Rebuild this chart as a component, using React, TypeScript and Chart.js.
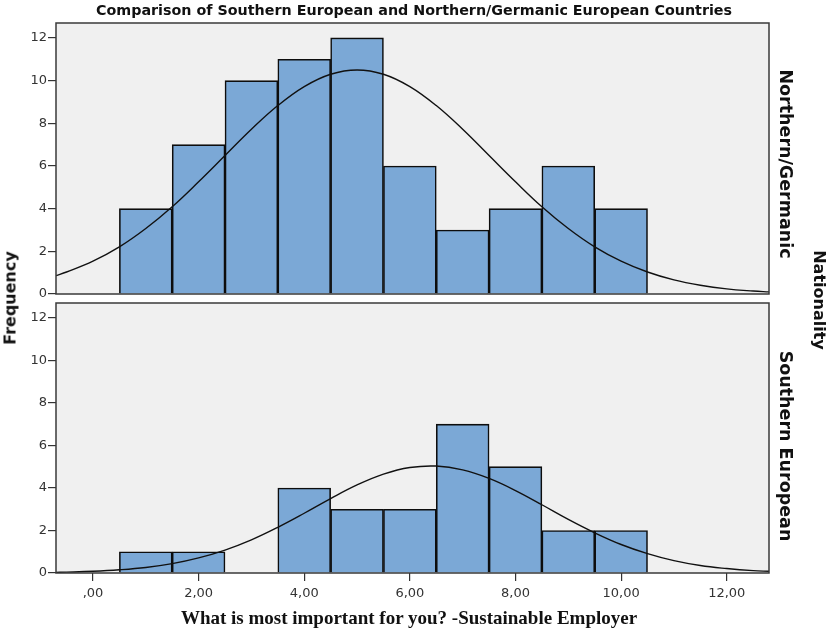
import React, { useEffect, useRef } from "react";
import { Chart, registerables } from "chart.js";

Chart.register(...registerables);

// ---- Data ----
const binCenters = [1, 2, 3, 4, 5, 6, 7, 8, 9, 10];
const northernCounts = [4, 7, 10, 11, 12, 6, 3, 4, 6, 4];
const southernCounts = [1, 1, 0, 4, 3, 3, 7, 5, 2, 2];

const curveX = [
  -0.7, -0.5, 0, 0.5, 1, 1.5, 2, 2.5, 3, 3.5, 4, 4.5, 5, 5.5, 6, 6.5, 7, 7.5, 8,
  8.5, 9, 9.5, 10, 10.5, 11, 11.5, 12, 12.5, 12.8,
];
const northernCurve = [
  0.86, 1.03, 1.54, 2.21, 3.07, 4.09, 5.26, 6.49, 7.72, 8.83, 9.72, 10.3, 10.5,
  10.3, 9.72, 8.83, 7.72, 6.49, 5.26, 4.09, 3.07, 2.21, 1.54, 1.03, 0.66, 0.41,
  0.24, 0.14, 0.1,
];
const southernCurve = [
  0.03, 0.04, 0.08, 0.15, 0.26, 0.44, 0.71, 1.08, 1.56, 2.15, 2.81, 3.5, 4.14,
  4.65, 4.96, 5.03, 4.85, 4.45, 3.88, 3.21, 2.52, 1.89, 1.34, 0.91, 0.58, 0.35,
  0.21, 0.11, 0.08,
];

const yTickValues = [0, 2, 4, 6, 8, 10, 12];
const xTickValues = [0, 2, 4, 6, 8, 10, 12];
const xTickLabels = [",00", "2,00", "4,00", "6,00", "8,00", "10,00", "12,00"];

const X_MIN = -0.7;
const X_MAX = 12.8;
const Y_MAX = 12.7;

const panelPlugin = {
  id: "panelFrame",
  beforeDraw(chart: any) {
    const { ctx, chartArea: a } = chart;
    ctx.save();
    ctx.fillStyle = "#f0f0f0";
    ctx.fillRect(a.left, a.top, a.right - a.left, a.bottom - a.top);
    ctx.restore();
  },
  afterDraw(chart: any) {
    const { ctx, chartArea: a } = chart;
    ctx.save();
    ctx.strokeStyle = "#3a3a3a";
    ctx.lineWidth = 1.5;
    ctx.strokeRect(a.left, a.top, a.right - a.left, a.bottom - a.top);
    ctx.restore();
  },
};

function makeConfig(counts: number[], curve: number[], showX: boolean, padTop: number, padBottom: number): any {
  return {
    type: "bar",
    data: {
      datasets: [
        {
          type: "line",
          data: curveX.map((x, i) => ({ x, y: curve[i] })),
          borderColor: "#111",
          borderWidth: 1.4,
          pointRadius: 0,
          tension: 0.4,
          fill: false,
          order: 0,
        },
        {
          type: "bar",
          data: binCenters.map((x, i) => ({ x, y: counts[i] })),
          backgroundColor: "#7ba8d6",
          borderColor: "#0d0d0d",
          borderWidth: 1.6,
          barPercentage: 1,
          categoryPercentage: 1,
          order: 1,
        },
      ],
    },
    options: {
      animation: false,
      responsive: false,
      devicePixelRatio: 1,
      layout: { padding: { top: padTop, right: 63, bottom: padBottom, left: 0 } },
      plugins: { legend: { display: false }, tooltip: { enabled: false }, title: { display: false } },
      scales: {
        x: {
          type: "linear",
          min: X_MIN,
          max: X_MAX,
          offset: false,
          display: showX,
          afterBuildTicks: (scale: any) => {
            scale.ticks = xTickValues.map((v) => ({ value: v }));
          },
          afterFit: (scale: any) => {
            scale.height = showX ? 56 : 0;
          },
          grid: {
            display: true,
            offset: false,
            drawOnChartArea: false,
            drawTicks: true,
            tickLength: 8,
            color: "#333",
            lineWidth: 1.2,
          },
          border: { display: false },
          ticks: {
            maxRotation: 0,
            autoSkip: false,
            padding: 5,
            color: "#333",
            font: { family: "DejaVu Sans", size: 13 },
            callback: (v: number) => {
              const i = xTickValues.indexOf(v);
              return i >= 0 ? xTickLabels[i] : "";
            },
          },
        },
        y: {
          type: "linear",
          min: 0,
          max: Y_MAX,
          afterBuildTicks: (scale: any) => {
            scale.ticks = yTickValues.map((v) => ({ value: v }));
          },
          afterFit: (scale: any) => {
            scale.width = 56;
          },
          grid: {
            display: true,
            drawOnChartArea: false,
            drawTicks: true,
            tickLength: 8,
            color: "#333",
            lineWidth: 1.2,
          },
          border: { display: false },
          ticks: {
            padding: 1,
            color: "#333",
            font: { family: "DejaVu Sans", size: 13 },
            callback: (v: number) => String(v),
          },
        },
      },
    },
    plugins: [panelPlugin],
  };
}

function Panel(props: { counts: number[]; curve: number[]; showX: boolean; top: number; height: number; padTop: number; padBottom: number }) {
  const ref = useRef<HTMLCanvasElement | null>(null);
  useEffect(() => {
    if (!ref.current) return;
    const chart = new Chart(ref.current, makeConfig(props.counts, props.curve, props.showX, props.padTop, props.padBottom));
    return () => chart.destroy();
  }, []);
  return (
    <canvas
      ref={ref}
      width={832}
      height={props.height}
      style={{ position: "absolute", left: 0, top: props.top, width: 832, height: props.height }}
    />
  );
}

const textBase: React.CSSProperties = {
  position: "absolute",
  whiteSpace: "nowrap",
  color: "#111",
};

export default function App() {
  useEffect(() => {
    document.body.style.margin = "0";
  }, []);
  return (
    <div style={{ position: "fixed", left: 0, top: 0, width: 832, height: 629, background: "#fff", overflow: "hidden" }}>
      <Panel counts={northernCounts} curve={northernCurve} showX={false} top={0} height={312} padTop={23} padBottom={18} />
      <Panel counts={southernCounts} curve={southernCurve} showX={true} top={290} height={339} padTop={13} padBottom={0} />
      <div
        style={{
          ...textBase,
          left: 0,
          width: 828,
          top: 2,
          textAlign: "center",
          font: "bold 14.3px 'DejaVu Sans'",
        }}
      >
        Comparison of Southern European and Northern/Germanic European Countries
      </div>
      <div
        style={{
          ...textBase,
          left: 10,
          top: 298,
          transform: "translate(-50%, -50%) rotate(-90deg)",
          font: "bold 16px 'DejaVu Sans'",
        }}
      >
        Frequency
      </div>
      <div
        style={{
          ...textBase,
          left: 819,
          top: 300,
          transform: "translate(-50%, -50%) rotate(90deg)",
          font: "bold 16px 'DejaVu Sans'",
        }}
      >
        Nationality
      </div>
      <div
        style={{
          ...textBase,
          left: 786,
          top: 164,
          transform: "translate(-50%, -50%) rotate(90deg)",
          font: "bold 17.5px 'DejaVu Sans'",
        }}
      >
        Northern/Germanic
      </div>
      <div
        style={{
          ...textBase,
          left: 786,
          top: 446,
          transform: "translate(-50%, -50%) rotate(90deg)",
          font: "bold 17.5px 'DejaVu Sans'",
        }}
      >
        Southern European
      </div>
      <div
        style={{
          ...textBase,
          left: 409,
          top: 618,
          transform: "translate(-50%, -50%)",
          font: "bold 19px 'Liberation Serif'",
        }}
      >
        What is most important for you? -Sustainable Employer
      </div>
    </div>
  );
}
